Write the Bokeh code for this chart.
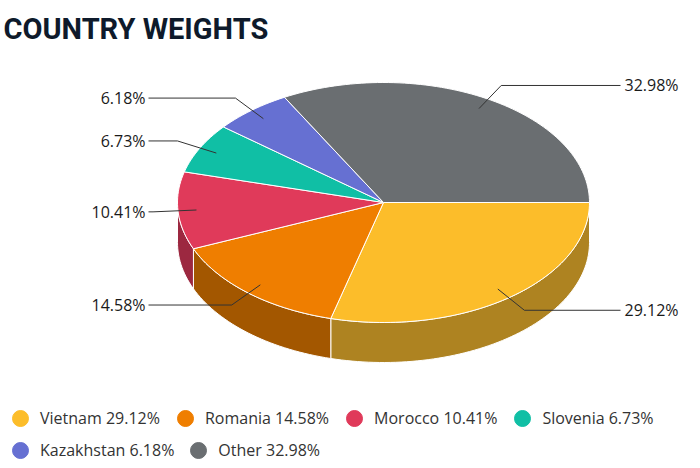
import math
from bokeh.plotting import figure
from bokeh.models import Range1d, Legend, LegendItem, ColumnDataSource
from bokeh.core.properties import value
from bokeh.embed import file_html
from bokeh.resources import INLINE

# ---- data ----
countries = ["Vietnam", "Romania", "Morocco", "Slovenia", "Kazakhstan", "Other"]
weights = [29.12, 14.58, 10.41, 6.73, 6.18, 32.98]
top_colors = ["#FCBD2A", "#EF7E00", "#E03A5A", "#10BFA5", "#6670D2", "#6A6E71"]
side_colors = ["#AE8321", "#A35700", "#9C2840", "#0B8573", "#474E93", "#4A4D4F"]
title_text = "COUNTRY WEIGHTS"

# ---- layout ----
W, H = 684, 460
cx, cy, rx, ry, depth = 383.0, 202.0, 206.0, 120.0, 40.0
anchor_f = 0.91
elbow_rx, elbow_ry = 231.0, 136.0
line_left_dx, line_right_dx = 235.0, 237.0
text_gap = 3.0

p = figure(width=W, height=H, x_range=Range1d(0, W), y_range=Range1d(H, 0),
           output_backend="svg", toolbar_location=None, min_border=0,
           x_axis_type=None, y_axis_type=None)
p.grid.visible = False
p.outline_line_color = None
p.background_fill_color = "white"
p.border_fill_color = "white"

total = sum(weights)
starts, ends = [], []
acc = 0.0
for w in weights:
    starts.append(acc / total * 2 * math.pi)
    acc += w
    ends.append(acc / total * 2 * math.pi)


def arc(a1, a2, dy=0.0, n=None):
    if n is None:
        n = max(4, int(abs(a2 - a1) / (2 * math.pi) * 240))
    xs, ys = [], []
    for i in range(n + 1):
        t = a1 + (a2 - a1) * i / n
        xs.append(cx + rx * math.cos(t))
        ys.append(cy + ry * math.sin(t) + dy)
    return xs, ys


# side walls (front half: 0..pi)
wx, wy, wc = [], [], []
for a1, a2, c in zip(starts, ends, side_colors):
    b1, b2 = max(a1, 0.0), min(a2, math.pi)
    if b2 > b1:
        tx, ty = arc(b1, b2)
        bx, by = arc(b2, b1, depth)
        wx.append(tx + bx)
        wy.append(ty + by)
        wc.append(c)
p.patches(xs=wx, ys=wy, fill_color=wc, line_color="white", line_width=1)

# top faces
fx, fy = [], []
for a1, a2 in zip(starts, ends):
    ax, ay = arc(a1, a2)
    fx.append([cx] + ax)
    fy.append([cy] + ay)
p.patches(xs=fx, ys=fy, fill_color=top_colors, line_color="white", line_width=1)

# data labels with connectors
lx, ly = [], []
tl_x, tl_y, tl_t = [], [], []
tr_x, tr_y, tr_t = [], [], []
for a1, a2, w in zip(starts, ends, weights):
    m = (a1 + a2) / 2
    c, s = math.cos(m), math.sin(m)
    ax_, ay_ = cx + rx * anchor_f * c, cy + ry * anchor_f * s
    ex, ey = cx + elbow_rx * c, cy + elbow_ry * s
    lab = f"{w:.2f}%"
    if c < 0:
        endx = cx - line_left_dx
        tl_x.append(endx - text_gap); tl_y.append(ey); tl_t.append(lab)
    else:
        endx = cx + line_right_dx
        tr_x.append(endx + text_gap + 1); tr_y.append(ey); tr_t.append(lab)
    lx.append([ax_, ex, endx])
    ly.append([ay_, ey, ey])
p.multi_line(xs=lx, ys=ly, line_color="#333333", line_width=1)

p.text(x=tl_x, y=tl_y, text=tl_t, text_font=value("Open Sans"), text_font_size="16px",
       text_color="#1a1a1a", text_align="right", text_baseline="middle")
p.text(x=tr_x, y=tr_y, text=tr_t, text_font=value("Open Sans"), text_font_size="16px",
       text_color="#1a1a1a", text_align="left", text_baseline="middle")

# title
p.text(x=[3], y=[28], text=[title_text], text_font=value("Roboto"), text_font_style="bold",
       text_font_size="29px", text_color="#0E1A2B", text_align="left", text_baseline="alphabetic")

# legend
items = []
for name, w, c in zip(countries, weights, top_colors):
    r = p.scatter(x="x", y="y", source=ColumnDataSource(dict(x=[-1000], y=[-1000])), marker="circle",
                  size=16, fill_color=c, line_color=c)
    items.append(LegendItem(label=f"{name} {w:.2f}%", renderers=[r], index=0))


def make_legend(its, loc, spacing):
    lg = Legend(items=its, location=loc, orientation="horizontal", glyph_width=40, glyph_height=40,
                label_standoff=0, spacing=spacing, padding=0, margin=0,
                border_line_color=None, background_fill_alpha=0,
                label_text_font="Open Sans", label_text_font_size="16px", label_text_color="#333333")
    return lg


p.add_layout(make_legend(items[:4], (0, H - 418 - 20), 5))
p.add_layout(make_legend(items[4:], (0, H - 450 - 20), 4))

open("out.html", "w").write(file_html(p, INLINE))
